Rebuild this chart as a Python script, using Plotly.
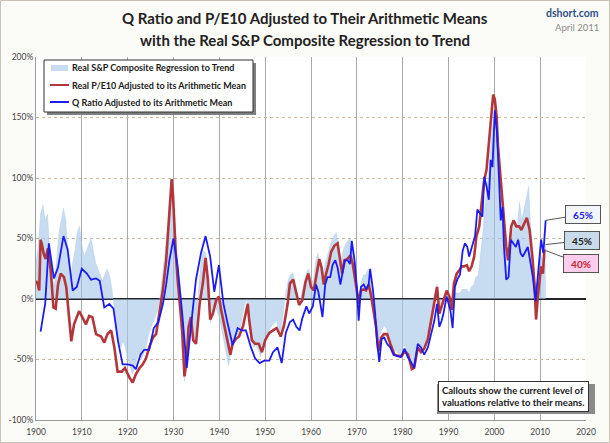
import plotly.graph_objects as go

# ---------------- data ----------------
pe_years = [1900.0,1900.4,1900.7,1901.0,1901.3,1901.7,1902.1,1902.6,1903.2,1903.8,1904.3,1904.8,1905.4,1906.1,1906.6,1907.2,1907.7,1908.3,1909.4,1910.1,1910.9,1911.6,1912.3,1913.1,1914.2,1914.9,1915.6,1916.4,1917.1,1917.8,1918.7,1919.4,1920.4,1921.1,1921.8,1922.6,1923.3,1924.0,1924.7,1925.5,1926.2,1926.9,1927.7,1928.4,1929.1,1929.6,1929.9,1930.2,1930.5,1930.9,1931.3,1931.9,1932.4,1932.8,1933.3,1933.8,1934.3,1934.9,1935.7,1936.4,1937.0,1937.5,1938.0,1938.6,1939.3,1939.9,1940.4,1941.1,1941.8,1942.4,1942.9,1943.6,1944.3,1945.2,1946.2,1946.5,1947.1,1947.8,1948.6,1949.3,1950.0,1950.9,1951.7,1952.5,1953.4,1954.1,1954.9,1955.4,1956.1,1956.7,1957.4,1958.1,1958.8,1959.4,1960.0,1960.6,1961.3,1961.8,1962.3,1962.8,1963.3,1963.8,1964.4,1965.1,1965.8,1966.4,1966.8,1967.3,1967.9,1968.6,1969.1,1969.8,1970.4,1970.9,1971.5,1972.0,1972.6,1973.1,1973.7,1974.2,1974.7,1975.3,1975.9,1976.6,1977.3,1978.2,1978.9,1979.8,1980.5,1981.2,1982.0,1982.5,1983.3,1984.0,1984.7,1985.5,1986.2,1986.9,1987.5,1988.0,1988.6,1989.6,1990.2,1990.7,1991.2,1991.8,1992.4,1992.9,1993.4,1994.0,1994.5,1995.05,1995.6,1996.1,1996.7,1997.2,1997.7,1998.3,1998.9,1999.4,1999.75,2000.1,2000.5,2000.8,2001.2,2001.55,2001.9,2002.3,2002.6,2003.0,2003.4,2003.7,2004.2,2004.8,2005.4,2005.9,2006.6,2007.1,2007.7,2008.3,2008.8,2009.1,2009.5,2009.9,2010.2,2010.6,2010.9,2011.2]
pe_vals = [15,12,7,49,45,37,33,42,24,-7,-8,12,21,18,10,-18,-35,-21,-10,-15,-21,-14,-15,-29,-31,-36,-29,-26,-40,-60,-60,-57,-65,-69,-62,-57,-54,-49,-40,-32,-29,-12,8,32,74,99,85,57,38,16,-4,-26,-64,-53,-23,-15,-34,-37,-4,13,34,16,-17,-12,-1,2,-9,-23,-37,-46,-37,-33,-31,-22,-4,-17,-34,-37,-37,-44,-34,-28,-26,-24,-31,-22,-4,13,16,7,-5,-1,14,21,10,7,23,33,26,12,21,28,39,44,46,29,21,32,33,36,29,12,-4,7,8,7,12,3,-10,-23,-43,-32,-29,-29,-37,-46,-47,-47,-43,-46,-58,-57,-40,-44,-41,-33,-18,-1,10,-12,-5,7,2,-9,13,21,24,27,27,28,23,27,35,52,60,76,96,107,132,159,169,165,151,126,107,90,76,60,43,32,52,60,65,60,60,57,63,67,57,35,10,-17,2,18,27,21,40,40]

q_years = [1901.0,1902.0,1902.8,1903.9,1904.8,1906.0,1906.9,1908.0,1908.9,1910.0,1911.1,1912.0,1913.1,1913.9,1914.9,1916.0,1916.9,1917.9,1918.9,1920.0,1921.1,1921.8,1922.8,1923.6,1924.7,1925.7,1926.7,1927.7,1928.4,1929.1,1930.0,1930.9,1931.9,1932.9,1933.8,1934.9,1936.0,1937.0,1938.0,1938.9,1939.9,1940.9,1941.8,1942.9,1944.0,1944.9,1945.8,1946.9,1947.8,1948.8,1949.8,1950.9,1951.7,1952.7,1953.6,1954.5,1955.4,1956.1,1956.8,1957.5,1958.1,1959.0,1959.6,1960.4,1961.1,1961.6,1962.0,1962.5,1963.1,1963.6,1964.2,1964.7,1965.3,1965.8,1966.4,1966.9,1967.4,1968.0,1968.5,1968.9,1969.5,1970.0,1970.4,1970.9,1971.5,1972.0,1972.6,1972.9,1973.5,1974.0,1974.4,1974.9,1975.4,1976.0,1976.6,1977.3,1978.0,1978.8,1979.6,1980.4,1981.1,1981.8,1982.5,1983.3,1984.0,1984.7,1985.5,1986.2,1986.9,1987.5,1988.0,1988.5,1988.9,1989.6,1990.4,1990.9,1991.4,1991.9,1992.5,1993.1,1993.6,1994.1,1994.5,1995.1,1995.8,1996.3,1996.9,1997.4,1997.8,1998.3,1998.8,1999.2,1999.6,2000.1,2000.6,2001.0,2001.4,2001.8,2002.1,2002.6,2003.1,2003.6,2004.1,2004.7,2005.2,2005.7,2006.2,2006.8,2007.3,2007.8,2008.4,2009.0,2009.5,2009.9,2010.2,2010.7,2011.2]
q_vals = [-27,-4,46,17,26,52,41,7,10,25,21,16,17,15,-7,-4,-8,-35,-54,-54,-55,-58,-46,-42,-42,-24,-19,-4,12,32,50,27,-12,-57,-23,16,38,52,35,6,28,-4,-20,-38,-24,-26,-26,-40,-49,-53,-51,-51,-44,-40,-53,-28,-19,-17,-23,-26,-16,-6,-12,-6,12,6,-3,-15,12,18,18,28,32,26,12,23,32,32,29,48,32,10,-18,10,12,8,12,25,8,-12,-35,-52,-33,-32,-37,-40,-46,-47,-48,-41,-48,-52,-57,-37,-40,-46,-40,-29,-18,-4,-23,-18,-12,2,-9,-24,10,16,20,40,46,43,35,43,52,74,71,68,101,93,82,115,109,156,137,96,65,76,43,16,18,49,46,43,49,38,35,40,43,32,18,-2,21,32,49,38,65]

sp_years = [1900.0,1900.5,1901.0,1901.5,1902.0,1902.5,1903.0,1903.5,1904.0,1904.5,1905.0,1905.5,1906.0,1906.5,1907.0,1907.5,1908.0,1908.5,1909.0,1909.5,1910.0,1910.5,1911.0,1911.5,1912.0,1912.5,1913.0,1913.5,1914.0,1914.5,1915.0,1915.5,1916.0,1916.5,1917.0,1917.5,1918.0,1918.5,1919.0,1919.5,1920.0,1920.5,1921.0,1921.5,1922.0,1922.5,1923.0,1923.5,1924.0,1924.5,1925.0,1925.5,1926.0,1926.5,1927.0,1927.5,1928.0,1928.5,1929.0,1929.6,1930.0,1930.5,1931.0,1931.5,1932.0,1932.4,1933.0,1933.5,1934.0,1934.5,1935.0,1935.5,1936.0,1936.5,1937.0,1937.5,1938.0,1938.5,1939.0,1939.5,1940.0,1940.5,1941.0,1941.5,1942.0,1942.5,1943.0,1943.5,1944.0,1944.5,1945.0,1945.5,1946.0,1946.5,1947.0,1947.5,1948.0,1948.5,1949.0,1949.5,1950.0,1950.5,1951.0,1951.5,1952.0,1952.5,1953.0,1953.5,1954.0,1954.5,1955.0,1955.5,1956.0,1956.5,1957.0,1957.5,1958.0,1958.5,1959.0,1959.5,1960.0,1960.5,1961.0,1961.5,1962.0,1962.5,1963.0,1963.5,1964.0,1964.5,1965.0,1965.5,1966.0,1966.5,1967.0,1967.5,1968.0,1968.5,1969.0,1969.5,1970.0,1970.5,1971.0,1971.5,1972.0,1972.5,1973.0,1973.5,1974.0,1974.5,1975.0,1975.5,1976.0,1976.5,1977.0,1977.5,1978.0,1978.5,1979.0,1979.5,1980.0,1980.5,1981.0,1981.5,1982.0,1982.5,1983.0,1983.5,1984.0,1984.5,1985.0,1985.5,1986.0,1986.5,1987.0,1987.5,1988.0,1988.5,1989.0,1989.5,1990.0,1990.5,1991.0,1991.5,1992.0,1992.5,1993.0,1993.5,1994.0,1994.5,1995.0,1995.5,1996.0,1996.5,1997.0,1997.5,1998.0,1998.5,1999.0,1999.5,2000.0,2000.5,2001.0,2001.5,2002.0,2002.7,2003.0,2003.5,2004.0,2004.5,2005.0,2005.5,2006.0,2006.5,2007.0,2007.5,2007.9,2008.4,2008.9,2009.2,2009.6,2010.0,2010.5,2011.2]
sp_vals = [30,45,70,78,65,70,40,20,10,30,55,65,75,65,35,15,30,40,55,60,45,35,40,45,50,40,30,25,20,15,20,25,20,10,-5,-25,-35,-40,-35,-40,-50,-55,-62,-58,-50,-45,-50,-45,-40,-30,-25,-20,-15,-10,0,15,30,50,75,95,60,40,10,-25,-50,-68,-40,-15,-25,-35,-20,10,30,40,38,10,-20,-15,-5,-10,-15,-25,-35,-45,-55,-45,-35,-30,-30,-25,-15,-5,0,-20,-35,-40,-38,-42,-48,-40,-35,-30,-25,-22,-20,-18,-28,-25,-10,5,15,20,22,15,5,-5,5,15,22,25,15,15,30,38,25,15,28,35,42,48,52,55,45,30,40,45,48,50,40,25,5,5,15,20,20,25,15,-5,-20,-40,-30,-25,-22,-25,-32,-38,-45,-42,-45,-45,-40,-38,-45,-52,-58,-55,-40,-38,-45,-40,-35,-28,-15,-5,5,12,-10,-8,0,5,3,-5,0,5,5,5,8,8,8,5,10,12,18,20,35,55,80,95,115,140,150,140,100,80,60,30,25,45,55,65,60,80,65,75,85,93,60,35,5,-5,25,40,30,45]

x_ticks = [1900,1910,1920,1930,1940,1950,1960,1970,1980,1990,2000,2010,2020]
y_ticks = [-100,-50,0,50,100,150,200]
y_tick_text = ["-100%","-50%","0%","50%","100%","150%","200%"]

names = ["Real S&P Composite Regression to Trend",
         "Real P/E10 Adjusted to its Arithmetic Mean",
         "Q Ratio Adjusted to its Arithmetic Mean"]

FONT = "Lato"
L, R, T, B = 36, 24, 57, 23
PW, PH = 610 - L - R, 443 - T - B

SP_FILL = "rgba(165,198,230,0.62)"
PE_COLOR = "#B3373A"
Q_COLOR = "#1C1CF0"


def px(x):  # pixel x -> paper x
    return (x - L) / PW


def py(y):  # pixel y -> paper y
    return (443 - B - y) / PH


fig = go.Figure()
fig.add_trace(go.Scatter(x=sp_years, y=sp_vals, name=names[0], mode="lines",
                         fill="tozeroy", fillcolor=SP_FILL,
                         line=dict(color="rgba(165,198,230,0.7)", width=0.5)))
fig.add_trace(go.Scatter(x=pe_years, y=pe_vals, name=names[1], mode="lines",
                         line=dict(color=PE_COLOR, width=2.6)))
fig.add_trace(go.Scatter(x=q_years, y=q_vals, name=names[2], mode="lines",
                         line=dict(color=Q_COLOR, width=1.8)))

fig.update_layout(
    width=610, height=443,
    margin=dict(l=L, r=R, t=T, b=B, autoexpand=False),
    paper_bgcolor="#FBFBF7",
    plot_bgcolor="#FFFFFF",
    font=dict(family=FONT, color="#333333"),
    showlegend=False,
    xaxis=dict(range=[1900, 2020], tickvals=x_ticks, showgrid=True,
               gridcolor="#A9A9A9", gridwidth=1, zeroline=False, automargin=False,
               showline=True, linecolor="#9a9a9a", ticks="", ticklabelstandoff=4,
               tickfont=dict(family=FONT, size=8.5, color="#444444")),
    yaxis=dict(range=[-100, 200], tickvals=y_ticks, ticktext=y_tick_text,
               showgrid=True, gridcolor="#C9B79F", griddash="dot", gridwidth=1,
               zeroline=True, zerolinecolor="#222222", zerolinewidth=2, automargin=False,
               showline=True, linecolor="#9a9a9a", ticks="",
               tickfont=dict(family=FONT, size=8.5, color="#444444")),
)

# outer frame of the whole picture
fig.add_shape(type="rect", xref="paper", yref="paper", layer="below",
              x0=px(0.5), x1=px(609.5), y0=py(442.5), y1=py(0.5),
              fillcolor="rgba(0,0,0,0)", line=dict(color="#C9C2B4", width=1))

# title (two lines)
for txt, yy in [("Q Ratio and P/E10 Adjusted to Their Arithmetic Means", 18),
                ("with the Real S&P Composite Regression to Trend", 40)]:
    fig.add_annotation(xref="paper", yref="paper", x=px(305), y=py(yy), xanchor="center", yanchor="middle",
                       text=txt, showarrow=False,
                       font=dict(family=FONT, size=15, color="#222222", weight="bold"))

# header texts
fig.add_annotation(xref="paper", yref="paper", x=px(601), y=py(13), xanchor="right", yanchor="middle",
                   text="dshort.com", showarrow=False,
                   font=dict(family=FONT, size=10.5, color="#2F4F86", weight="bold"))
fig.add_annotation(xref="paper", yref="paper", x=px(601), y=py(28), xanchor="right", yanchor="middle",
                   text="April 2011", showarrow=False,
                   font=dict(family=FONT, size=9.5, color="#8a8a8a"))

# ---- hand-drawn legend box (shadow, frame, samples, labels) ----
fig.add_shape(type="rect", xref="paper", yref="paper", layer="above",
              x0=px(47), x1=px(256), y0=py(115), y1=py(63),
              fillcolor="#7f7f7f", line=dict(width=0))
fig.add_shape(type="rect", xref="paper", yref="paper", layer="above",
              x0=px(44), x1=px(253), y0=py(112), y1=py(60),
              fillcolor="#FFFFFF", line=dict(color="#333333", width=1))
leg_y = [68, 85, 102]
fig.add_shape(type="rect", xref="paper", yref="paper", layer="above",
              x0=px(51), x1=px(68), y0=py(leg_y[0] + 3), y1=py(leg_y[0] - 3),
              fillcolor=SP_FILL, line=dict(width=0))
for yy, col in [(leg_y[1], PE_COLOR), (leg_y[2], Q_COLOR)]:
    fig.add_shape(type="line", xref="paper", yref="paper", layer="above",
                  x0=px(50), x1=px(69), y0=py(yy), y1=py(yy),
                  line=dict(color=col, width=2))
for nm, yy in zip(names, leg_y):
    fig.add_annotation(xref="paper", yref="paper", x=px(70), y=py(yy), xanchor="left", yanchor="middle",
                       text=nm, showarrow=False,
                       font=dict(family=FONT, size=9, color="#1a1a1a", weight="bold"))

# callouts
end_x = 2011.2
callout_style = dict(showarrow=True, arrowhead=0, arrowcolor="#555555", arrowwidth=1,
                     bordercolor="#555555", borderwidth=1, borderpad=2, width=30, height=13)
fig.add_annotation(x=end_x, y=q_vals[-1], ax=37, ay=-6, text="65%", bgcolor="#F2F6FB",
                   font=dict(family=FONT, size=10, color="#2222DD", weight="bold"), **callout_style)
fig.add_annotation(x=end_x, y=sp_vals[-1], ax=36, ay=-4, text="45%", bgcolor="#C9DAEA",
                   font=dict(family=FONT, size=10, color="#222222", weight="bold"), **callout_style)
fig.add_annotation(x=end_x, y=pe_vals[-1], ax=35, ay=13, text="40%", bgcolor="#FFCCEB",
                   font=dict(family=FONT, size=10, color="#CC2233", weight="bold"), **callout_style)

# bottom-right note with shadow
fig.add_shape(type="rect", xref="paper", yref="paper", layer="above",
              x0=px(437), x1=px(595), y0=py(414), y1=py(384),
              fillcolor="#8a8a8a", line=dict(width=0))
fig.add_annotation(xref="paper", yref="paper", x=px(513), y=py(396), xanchor="center", yanchor="middle",
                   text="Callouts show the current level of<br>valuations <b>relative</b> to their means.",
                   showarrow=False, align="left", bgcolor="#FFFFFF", bordercolor="#333333",
                   borderwidth=1, borderpad=3,
                   font=dict(family=FONT, size=9.5, color="#1a1a1a", weight="bold"))

fig.write_html("out.html", config={"displayModeBar": False},
               post_script="document.body.style.margin='0px';")
